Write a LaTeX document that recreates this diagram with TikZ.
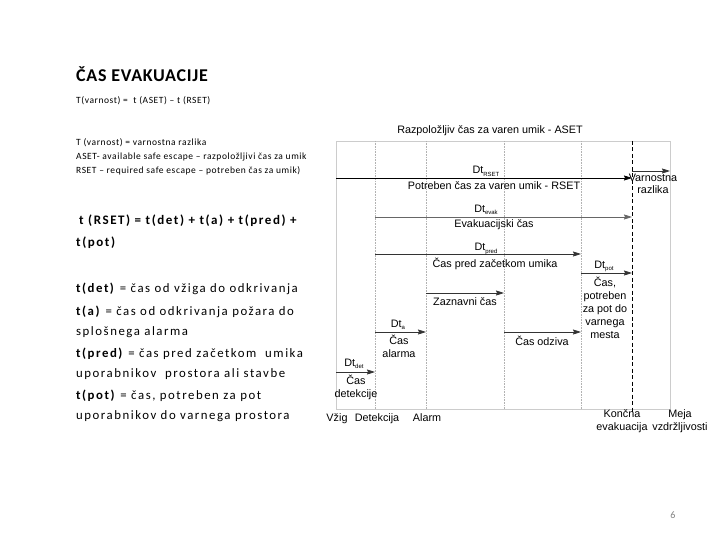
\documentclass[tikz,border=0pt]{standalone}
\usepackage{fontspec}
\setmainfont{Carlito}
\newfontfamily\arialf{Liberation Sans}
\newfontfamily\ttlfont[LetterSpace=4]{Carlito}
\newfontfamily\smallfont[LetterSpace=6]{Carlito}
\newfontfamily\deffont[LetterSpace=12]{Carlito}
\usetikzlibrary{arrows.meta}
\newcommand\lowsub[1]{\raisebox{-0.45ex}{\fontsize{6}{6}\selectfont #1}}
\begin{document}
\begin{tikzpicture}[x=1pt,y=-1pt,
  dg/.style={font=\arialf\fontsize{10.8}{13}\selectfont, inner sep=0pt, align=center, anchor=base},
  arr/.style={-{Stealth[length=8pt,width=5pt,inset=1pt]}, line width=0.8pt, black!80},
  frame/.style={gray!40, line width=0.6pt},
  vdot/.style={gray!60, densely dotted, line width=0.6pt},
  dsh/.style={black, dashed, dash pattern=on 4pt off 2.5pt, line width=0.7pt},
  lt/.style={anchor=base west, inner sep=0pt, font=\smallfont\fontsize{9.5}{11}\selectfont},
  bt/.style={anchor=base west, inner sep=0pt, font=\deffont\fontsize{12.8}{15}\selectfont},
  ft/.style={anchor=base west, inner sep=0pt, font=\deffont\bfseries\fontsize{13}{15}\selectfont},
]
\useasboundingbox (0,0) rectangle (720,540);

% ---- left text ----
\node[anchor=base west, inner sep=0pt, font=\ttlfont\bfseries\fontsize{18}{20}\selectfont] (title) at (76,82) {ČAS EVAKUACIJE};
\node[lt] (l1) at (76,104) {T(varnost) = \ t (ASET) – t (RSET)};
\node[lt] (l2) at (76,146) {T (varnost) = varnostna razlika};
\node[lt] (l3) at (76,160) {ASET- available safe escape – razpoložljivi čas za umik};
\node[lt] (l4) at (76,174) {RSET – required safe escape – potreben čas za umik)};

\node[ft] (f1) at (79,225) {t (RSET) = t(det) + t(a) + t(pred) +};
\node[ft] (f2) at (76,246) {t(pot)};

\node[bt] (d1) at (76,292) {\textbf{t(det)} = čas od vžiga do odkrivanja};
\node[bt] (d2) at (76,315) {\textbf{t(a)} = čas od odkrivanja požara do};
\node[bt] (d3) at (76,335) {splošnega alarma};
\node[bt] (d4) at (76,357) {\textbf{t(pred)} = čas pred začetkom \ umika};
\node[bt] (d5) at (76,377) {uporabnikov \ prostora ali stavbe};
\node[bt] (d6) at (76,399) {\textbf{t(pot)} = čas, potreben za pot};
\node[bt] (d7) at (76,419) {uporabnikov do varnega prostora};

% ---- timeline points ----
\coordinate (vT) at (336,141); \coordinate (vB) at (336,409);
\coordinate (dT) at (375,141); \coordinate (dB) at (375,409);
\coordinate (aT) at (426,141); \coordinate (aB) at (426,409);
\coordinate (zT) at (504,141); \coordinate (zB) at (504,409);
\coordinate (pT) at (581,141); \coordinate (pB) at (581,409);
\coordinate (kT) at (632,141); \coordinate (kB) at (632,414);
\coordinate (mT) at (670,141); \coordinate (mB) at (670,409);

\draw[frame] (vB) -- (vT) -- (mT) -- (mB) -- (vB);
\draw[vdot] (dT) -- (dB);
\draw[vdot] (aT) -- (aB);
\draw[vdot] (zT) -- (zB);
\draw[vdot] (pT) -- (pB);
\draw[dsh] (kT) -- (kB);

% ---- arrows ----
\coordinate (rS) at (336,178); \coordinate (rE) at (632,178);
\coordinate (sS) at (632,171); \coordinate (sE) at (670,171);
\coordinate (eS) at (375,217); \coordinate (eE) at (632,217);
\coordinate (qS) at (375,254); \coordinate (qE) at (581,254);
\coordinate (zS) at (426,293); \coordinate (zE) at (504,293);
\coordinate (oS) at (504,332); \coordinate (oE) at (581,332);
\coordinate (tS) at (375,332); \coordinate (tE) at (426,332);
\coordinate (cS) at (336,372); \coordinate (cE) at (375,372);
\coordinate (gS) at (581,273); \coordinate (gE) at (632,273);

\draw[arr, black] (rS) -- (rE);
\draw[arr] (sS) -- (sE);
\draw[arr, black!60] (eS) -- (eE);
\draw[arr] (qS) -- (qE);
\draw[arr] (zS) -- (zE);
\draw[arr] (oS) -- (oE);
\draw[arr] (tS) -- (tE);
\draw[arr] (cS) -- (cE);
\draw[arr] (gS) -- (gE);

% ---- diagram labels ----
\node[dg] (aset) at (490,134) {Razpoložljiv čas za varen umik - ASET};
\node[dg] (dtr) at (486,174) {Dt\lowsub{RSET}};
\node[dg] (rset) at (494,190) {Potreben čas za varen umik - RSET};
\node[dg] (vr) at (653,194) {Varnostna\\razlika};
\node[dg] (dte) at (486,212) {Dt\lowsub{evak}};
\node[dg] (evk) at (494,228) {Evakuacijski čas};
\node[dg] (dtp) at (486,251) {Dt\lowsub{pred}};
\node[dg] (prd) at (495,267) {Čas pred začetkom umika};
\node[dg] (zzn) at (465,305) {Zaznavni čas};
\node[dg] (dta) at (398,327) {Dt\lowsub{a}};
\node[dg] (cal) at (399,357) {Čas\\alarma};
\node[dg] (dtd) at (354,366) {Dt\lowsub{det}};
\node[dg] (cdt) at (356,397) {Čas\\detekcije};
\node[dg] (odz) at (542,345) {Čas odziva};
\node[dg] (dtg) at (604,268) {Dt\lowsub{pot}};
\node[dg] (pot) at (605,338) {Čas,\\potreben\\za pot do\\varnega\\mesta};

\node[dg] (vzg) at (337,421) {Vžig};
\node[dg] (det) at (377,421) {Detekcija};
\node[dg] (alm) at (427,421) {Alarm};
\node[dg] (kon) at (622,430) {Končna\\evakuacija};
\node[dg] (mej) at (680,430) {Meja\\vzdržljivosti};

\node[anchor=base, inner sep=0pt, font=\fontsize{10}{12}\selectfont, text=gray] (pg) at (673,518) {6};
\end{tikzpicture}
\end{document}
